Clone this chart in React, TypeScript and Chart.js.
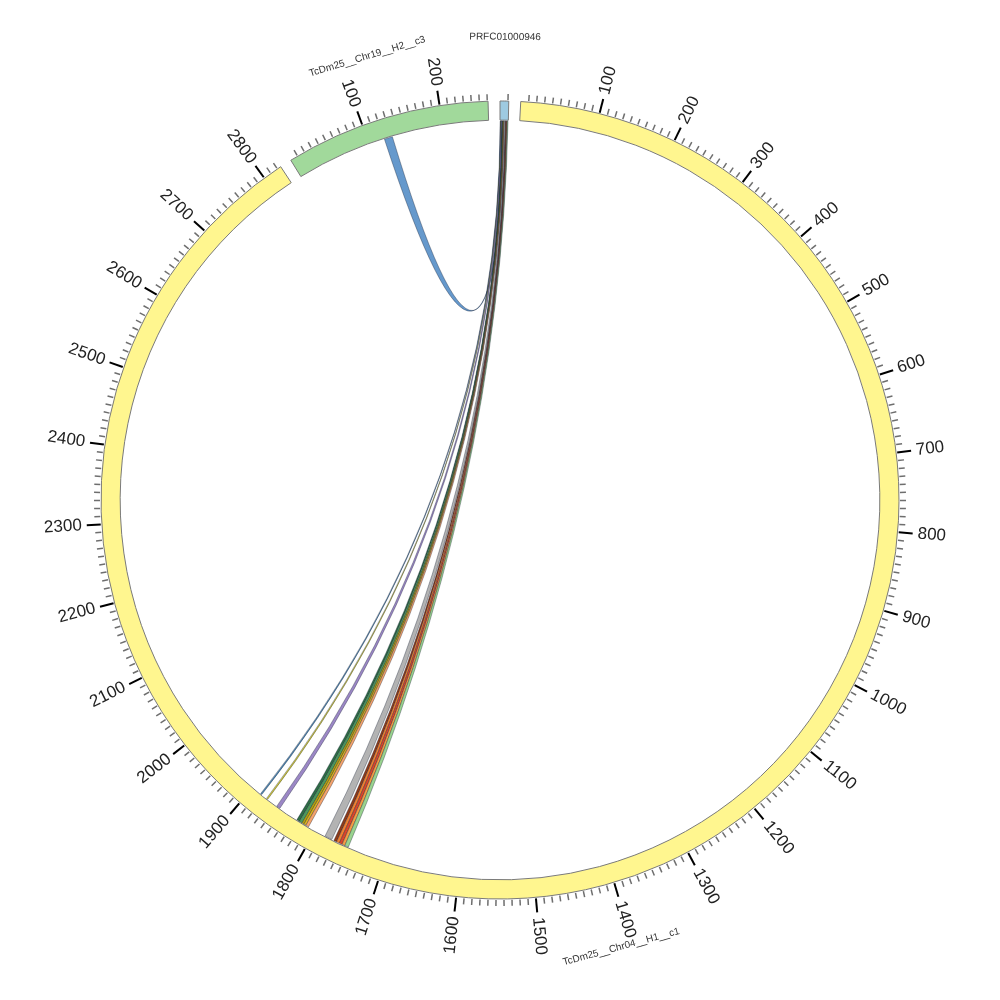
import React, { useEffect, useRef } from "react";
import { Chart, registerables } from "chart.js";

Chart.register(...registerables);

// ---- data ----
const contigNames = ["PRFC01000946", "TcDm25__Chr04__H1__c1", "TcDm25__Chr19__H2__c3"];
const contigLengths = [11, 2825, 261];
const contigColors = ["#9ecae1", "#fff68f", "#a1d99b"];
const gapLength = 15;
const tickStep = 10;
const majorTickStep = 100;

// links: contig index + start/end on each side
const linkSrcContig = [2, 0, 0, 0, 0, 0, 0, 0, 0, 0, 0, 0, 0, 0, 0];
const linkSrcStart = [121, 0.2, 0.8, 1.4, 2.6, 3.2, 3.8, 4.4, 5.0, 5.8, 7.2, 7.8, 8.4, 9.0, 9.6];
const linkSrcEnd = [132, 0.8, 1.4, 2.6, 3.4, 4.0, 4.6, 5.2, 5.8, 7.2, 7.9, 8.5, 9.1, 9.7, 10.6];
const linkDstContig = [0, 1, 1, 1, 1, 1, 1, 1, 1, 1, 1, 1, 1, 1, 1];
const linkDstStart = [1, 1885, 1875, 1855, 1824, 1820, 1817, 1814, 1810, 1775, 1768, 1764, 1760, 1756, 1751];
const linkDstEnd = [3, 1887, 1877, 1860, 1828, 1824, 1820, 1817, 1814, 1785, 1772, 1768, 1764, 1760, 1756];
const linkColors = [
  "#6699cc", "#4f86b0", "#cfc63c", "#9b87c5",
  "#2e6b45", "#4c9a5c", "#b5a20a", "#e0b21a", "#f4a36c",
  "#b3b3b3",
  "#8b3a1a", "#f08030", "#d9452b", "#f59c45", "#99d38e",
];

// build doughnut data: contig, gap, contig, gap ...
const ringData: number[] = [];
const ringColors: string[] = [];
const ringBorders: number[] = [];
const contigSlice: number[] = [];
contigLengths.forEach((len, i) => {
  contigSlice.push(ringData.length);
  ringData.push(len);
  ringColors.push(contigColors[i]);
  ringBorders.push(1);
  ringData.push(gapLength);
  ringColors.push("rgba(0,0,0,0)");
  ringBorders.push(0);
});

function posAngle(chart: any, contig: number, pos: number) {
  const arc = chart.getDatasetMeta(0).data[contigSlice[contig]];
  const p = arc.getProps(["startAngle", "endAngle"], true);
  return p.startAngle + (pos / contigLengths[contig]) * (p.endAngle - p.startAngle);
}

const circosPlugin = {
  id: "circos",
  afterDatasetsDraw(chart: any) {
    const ctx = chart.ctx;
    const arc0 = chart.getDatasetMeta(0).data[0];
    const g = arc0.getProps(["x", "y", "innerRadius", "outerRadius"], true);
    const cx = g.x, cy = g.y, rIn = g.innerRadius, rOut = g.outerRadius;
    ctx.save();

    // ribbons
    const rr = rIn - 1;
    for (let i = 0; i < linkColors.length; i++) {
      const a1 = posAngle(chart, linkSrcContig[i], linkSrcStart[i]);
      const a2 = posAngle(chart, linkSrcContig[i], linkSrcEnd[i]);
      const b1 = posAngle(chart, linkDstContig[i], linkDstStart[i]);
      const b2 = posAngle(chart, linkDstContig[i], linkDstEnd[i]);
      ctx.beginPath();
      ctx.arc(cx, cy, rr, a1, a2);
      ctx.quadraticCurveTo(cx, cy - 8, cx + rr * Math.cos(b1), cy + rr * Math.sin(b1));
      ctx.arc(cx, cy, rr, b1, b2);
      ctx.quadraticCurveTo(cx, cy - 8, cx + rr * Math.cos(a1), cy + rr * Math.sin(a1));
      ctx.closePath();
      ctx.fillStyle = linkColors[i];
      ctx.fill();
      ctx.lineWidth = 0.5;
      ctx.strokeStyle = "rgba(20,30,50,0.7)";
      ctx.stroke();
    }

    // ticks and labels
    ctx.font = "17px 'Liberation Sans', Arial, sans-serif";
    ctx.fillStyle = "#222";
    ctx.textBaseline = "middle";
    contigLengths.forEach((len, c) => {
      for (let v = tickStep; v <= len; v += tickStep) {
        const a = posAngle(chart, c, v);
        const major = v % majorTickStep === 0;
        const r1 = rOut + 1;
        const r2 = rOut + (major ? 15 : 7);
        ctx.beginPath();
        ctx.moveTo(cx + r1 * Math.cos(a), cy + r1 * Math.sin(a));
        ctx.lineTo(cx + r2 * Math.cos(a), cy + r2 * Math.sin(a));
        ctx.lineWidth = major ? 2 : 1.5;
        ctx.strokeStyle = major ? "#000" : "#6e6e6e";
        ctx.stroke();
        if (major) {
          const rl = rOut + 20;
          const theta = a + Math.PI / 2; // clockwise from top
          const t = ((theta % (2 * Math.PI)) + 2 * Math.PI) % (2 * Math.PI);
          ctx.save();
          ctx.translate(cx + rl * Math.cos(a), cy + rl * Math.sin(a));
          if (t < Math.PI) {
            ctx.rotate(a);
            ctx.textAlign = "left";
          } else {
            ctx.rotate(a + Math.PI);
            ctx.textAlign = "right";
          }
          ctx.fillText(String(v), 0, 0);
          ctx.restore();
        }
      }
    });

    // contig names
    ctx.font = "10px 'Liberation Sans', Arial, sans-serif";
    ctx.fillStyle = "#333";
    ctx.textAlign = "center";
    const rn = rOut + 64;
    contigNames.forEach((name, c) => {
      const a = posAngle(chart, c, contigLengths[c] / 2);
      const theta = a + Math.PI / 2;
      const t = ((theta % (2 * Math.PI)) + 2 * Math.PI) % (2 * Math.PI);
      ctx.save();
      ctx.translate(cx + rn * Math.cos(a), cy + rn * Math.sin(a));
      if (t < Math.PI / 2 || t > (3 * Math.PI) / 2) ctx.rotate(t);
      else ctx.rotate(t - Math.PI);
      ctx.fillText(name, 0, 0);
      ctx.restore();
    });

    ctx.restore();
  },
};

export default function App() {
  const ref = useRef<HTMLCanvasElement | null>(null);
  useEffect(() => {
    if (!ref.current) return;
    const chart = new Chart(ref.current, {
      type: "doughnut",
      data: {
        labels: ringData.map((_, i) => String(i)),
        datasets: [
          {
            data: ringData,
            backgroundColor: ringColors,
            borderColor: ringColors.map((c) => (c.startsWith("rgba(0,0,0,0)") ? "rgba(0,0,0,0)" : "#7a7a7a")),
            borderWidth: ringBorders,
            hoverOffset: 0,
          },
        ],
      },
      options: {
        responsive: false,
        animation: false,
        rotation: 0,
        radius: 399,
        cutout: "95.2%",
        layout: { padding: 0 },
        events: [],
        plugins: { legend: { display: false }, tooltip: { enabled: false } },
      },
      plugins: [circosPlugin],
    });
    return () => chart.destroy();
  }, []);
  return (
    <div style={{ position: "absolute", left: 0, top: 0, width: 1000, height: 1000, background: "#fff" }}>
      <canvas ref={ref} width={1000} height={1000} />
    </div>
  );
}
